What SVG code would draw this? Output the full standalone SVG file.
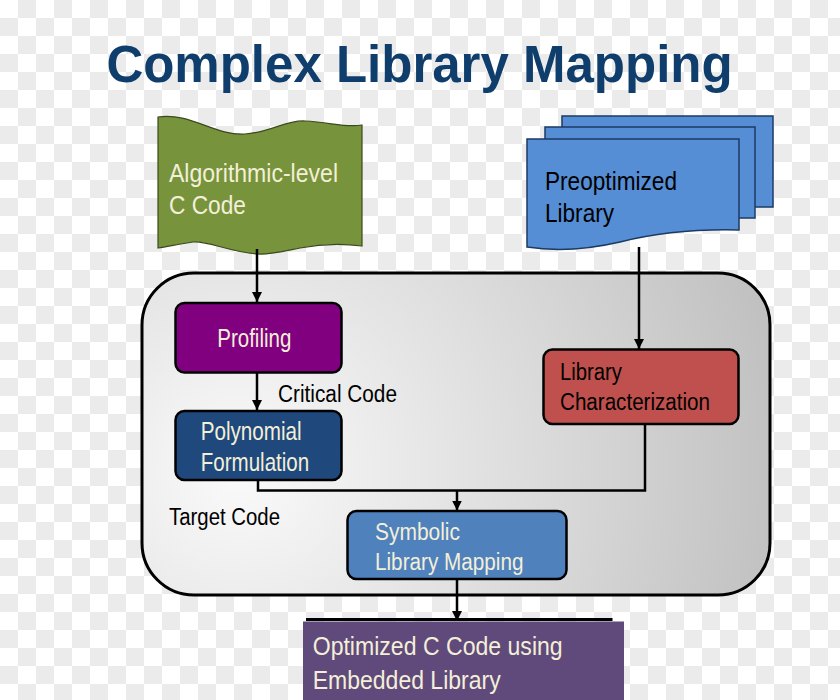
<svg xmlns="http://www.w3.org/2000/svg" width="840" height="700" viewBox="0 0 840 700">
<defs>
<pattern id="cb" width="36" height="36" patternUnits="userSpaceOnUse">
<rect width="36" height="36" fill="#ffffff"/>
<rect x="18" y="0" width="18" height="18" fill="#ebebeb"/>
<rect x="0" y="18" width="18" height="18" fill="#ebebeb"/>
</pattern>
<radialGradient id="bg" gradientUnits="userSpaceOnUse" cx="240" cy="470" r="580">
<stop offset="0" stop-color="#fafafa"/>
<stop offset="0.55" stop-color="#d9d9d9"/>
<stop offset="1" stop-color="#bdbdbd"/>
</radialGradient>
<marker id="ah" markerUnits="userSpaceOnUse" markerWidth="10" markerHeight="11" refX="10" refY="5" orient="auto">
<path d="M0,0 L10,5 L0,10 z" fill="#000"/>
</marker>
</defs>
<style>
text{font-family:"Liberation Sans",Arial,sans-serif;}
.lt{fill:#f3efd8;}
.dk{fill:#000;}
.box{stroke:#000;stroke-width:2.5;}
.con{fill:none;stroke:#000;stroke-width:2.5;}
</style>
<rect width="840" height="700" fill="url(#cb)"/>
<text x="419.5" y="82" text-anchor="middle" font-size="51" font-weight="bold" fill="#0f3e6d">Complex Library Mapping</text>

<g id="container">
<rect x="142" y="273" width="628" height="322" rx="52" ry="52" fill="url(#bg)" stroke="#000" stroke-width="3"/>
</g>

<g id="input-code">
<path d="M158,117 C190,112 215,136 245,134 C272,132 285,120 305,121 C330,122 345,128 362,125 L362,246 C340,243 320,244 300,248 C285,251 270,255 257,254 C230,252 205,240 193,242 C180,244 170,246 158,248 Z" fill="#77933c" stroke="#3b4a1e" stroke-width="1.2"/>
<text class="lt" x="169" y="182" font-size="25" textLength="169" lengthAdjust="spacingAndGlyphs">Algorithmic-level</text>
<text class="lt" x="169" y="214" font-size="25" textLength="77" lengthAdjust="spacingAndGlyphs">C Code</text>
</g>

<g id="preoptimized-library">
<rect x="562" y="116" width="211" height="91" fill="#558ed5" stroke="#1c3a63" stroke-width="1.5"/>
<rect x="545" y="127" width="210" height="91" fill="#558ed5" stroke="#1c3a63" stroke-width="1.5"/>
<path d="M527,139 H739 V230 C700,229 660,232 620,242 C590,249 560,252 527,247 Z" fill="#558ed5" stroke="#1c3a63" stroke-width="1.5"/>
<text class="dk" x="545" y="190" font-size="25" textLength="132" lengthAdjust="spacingAndGlyphs">Preoptimized</text>
<text class="dk" x="545" y="222" font-size="25" textLength="69" lengthAdjust="spacingAndGlyphs">Library</text>
</g>

<g id="profiling">
<rect class="box" x="175.5" y="303" width="166" height="69.5" rx="9" fill="#800080"/>
<text class="lt" x="217.3" y="346.5" font-size="25" textLength="74" lengthAdjust="spacingAndGlyphs">Profiling</text>
</g>

<g id="polynomial-formulation">
<rect class="box" x="175.5" y="411" width="166" height="69" rx="9" fill="#1f497d"/>
<text class="lt" x="200.7" y="440" font-size="25" textLength="101" lengthAdjust="spacingAndGlyphs">Polynomial</text>
<text class="lt" x="200.7" y="470.5" font-size="25" textLength="108.5" lengthAdjust="spacingAndGlyphs">Formulation</text>
</g>

<g id="library-characterization">
<rect class="box" x="543.5" y="349.5" width="195" height="74.5" rx="9" fill="#c0504d"/>
<text class="dk" x="560" y="379.5" font-size="23" textLength="62" lengthAdjust="spacingAndGlyphs">Library</text>
<text class="dk" x="560" y="409.5" font-size="23" textLength="150" lengthAdjust="spacingAndGlyphs">Characterization</text>
</g>

<g id="symbolic-library-mapping">
<rect class="box" x="347.5" y="511" width="219" height="68" rx="9" fill="#4f81bd"/>
<text class="lt" x="375" y="539.5" font-size="23" textLength="85" lengthAdjust="spacingAndGlyphs">Symbolic</text>
<text class="lt" x="375" y="570" font-size="23" textLength="148.5" lengthAdjust="spacingAndGlyphs">Library Mapping</text>
</g>

<g id="optimized-code">
<rect x="303" y="621.5" width="321" height="80" fill="#604a7b"/>
<line x1="306" y1="619.5" x2="612.5" y2="619.5" stroke="#000" stroke-width="3"/>
<text class="lt" x="312.7" y="655" font-size="26" textLength="250" lengthAdjust="spacingAndGlyphs">Optimized C Code using</text>
<text class="lt" x="312.7" y="689.3" font-size="26" textLength="188" lengthAdjust="spacingAndGlyphs">Embedded Library</text>
</g>

<g id="labels">
<text class="dk" x="278" y="401.7" font-size="23" textLength="119" lengthAdjust="spacingAndGlyphs">Critical Code</text>
<text class="dk" x="169" y="525" font-size="23" textLength="111" lengthAdjust="spacingAndGlyphs">Target Code</text>
</g>

<g id="connectors">
<path class="con" d="M257,249 V302" marker-end="url(#ah)"/>
<path class="con" d="M257,373 V410" marker-end="url(#ah)"/>
<path class="con" d="M639,247 V349" marker-end="url(#ah)"/>
<path class="con" d="M258,481 V490.5 H645 V424"/>
<path class="con" d="M457,490.5 V510.5" marker-end="url(#ah)"/>
<path class="con" d="M457,579.5 V621" marker-end="url(#ah)"/>
</g>
</svg>
